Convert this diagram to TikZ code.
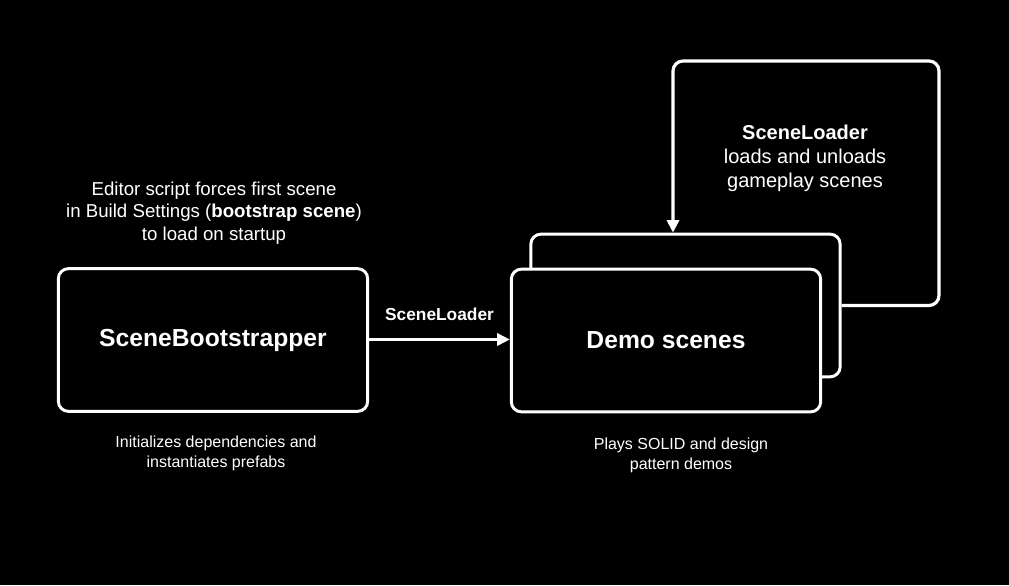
\documentclass[tikz,border=0pt]{standalone}
\usepackage{fontspec}
\setmainfont{Liberation Sans}
\usepackage{tikz}
\usetikzlibrary{arrows.meta, positioning, calc}

\tikzset{
  scenebox/.style={draw=white, line width=2.2pt, rounded corners=7.5pt, fill=black,
    minimum width=232pt, minimum height=107pt, inner sep=0pt, text=white,
    font=\fontsize{18.5}{22}\selectfont\bfseries},
  note/.style={text=white, align=center, inner sep=0pt},
  flow/.style={draw=white, line width=2.4pt, -{Triangle[length=9.5pt,width=9pt]}},
}

\begin{document}
\begin{tikzpicture}[x=0.75pt, y=-0.75pt, >=Stealth]
  \fill[black] (0,0) rectangle (1009,585);
  \useasboundingbox (0,0) rectangle (1009,585);

  % boxes
  \node[scenebox] (boot) at (213,340) {SceneBootstrapper};
  \node[scenebox] (back) at (685.5,305.5) {};
  \node[scenebox] (demo) at (666,340.5) {Demo scenes};

  % notes
  \node[note, font=\fontsize{14}{17}\selectfont] (bootabove) at (214,213)
    {Editor script forces first scene\\in Build Settings (\textbf{bootstrap scene})\\to load on startup};
  \node[note, font=\fontsize{12}{15}\selectfont] (bootbelow) at (216,453)
    {Initializes dependencies and\\instantiates prefabs};
  \node[note, font=\fontsize{12}{15}\selectfont] (demobelow) at (681,455)
    {Plays SOLID and design\\pattern demos};
  \node[note, font=\fontsize{15}{18}\selectfont] (looptext) at (805,158.5)
    {\textbf{SceneLoader}\\loads and unloads\\gameplay scenes};

  % connectors
  \coordinate (loopright) at (939,61);
  \coordinate (loopleft) at (673,61);
  \draw[flow] (boot.east |- 0,339.5) -- node[above=13pt, inner sep=0pt, text=white,
    font=\fontsize{13}{15}\selectfont\bfseries] (loadlabel) {SceneLoader} (demo.west |- 0,339.5);
  \draw[flow, rounded corners=7.5pt] (back.east) -| (loopright) -- (loopleft) -- (loopleft |- back.north);
\end{tikzpicture}
\end{document}
